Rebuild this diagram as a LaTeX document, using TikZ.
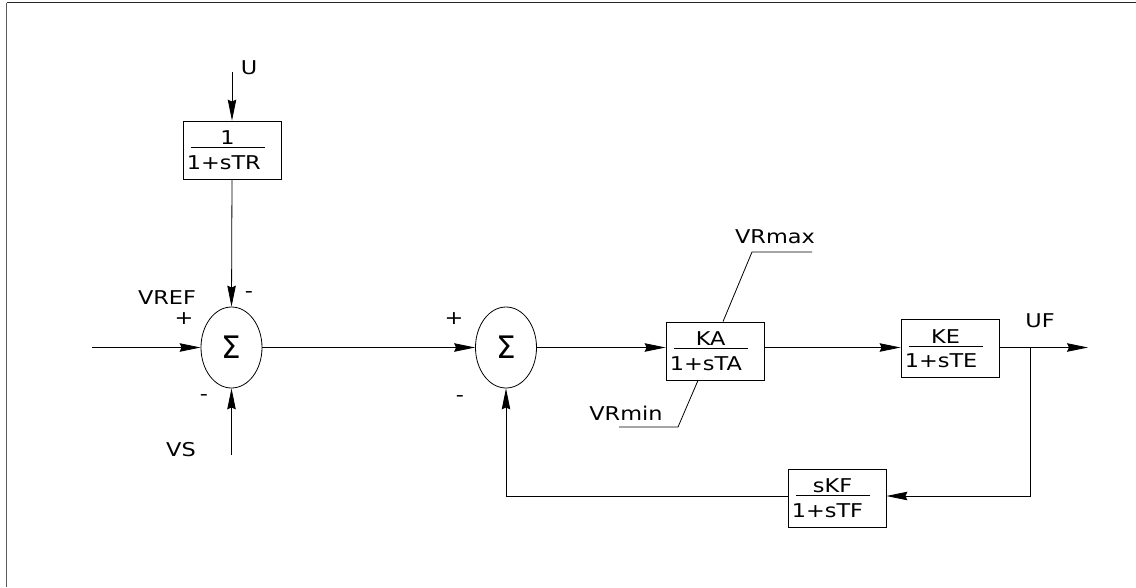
\documentclass[tikz,border=0pt]{standalone}
\usepackage{fontspec}
\setmainfont{DejaVu Sans}
\newfontfamily\widefont[FakeStretch=1.18]{DejaVu Sans}
\usetikzlibrary{arrows.meta,shapes.geometric,calc}
\tikzset{
  blk/.style={draw, line width=0.8pt, rectangle, minimum width=98pt, minimum height=58pt, inner sep=0pt},
  txt/.style={inner sep=0pt, font=\widefont\fontsize{19}{21}\selectfont},
  sumnode/.style={draw, line width=0.8pt, ellipse, minimum width=61pt, minimum height=81pt, inner sep=0pt, font=\fontsize{31}{33}\selectfont},
  wire/.style={line width=0.8pt},
  arr/.style={wire, -{Stealth[length=21pt,width=8.5pt,inset=2pt]}}
}
\newcommand{\blkbox}[5]{%
  \node[blk] (#1) at (#2,#3) {};
  \node[txt] (#1n) at ($(#1.north west)+(45,17)$) {#4};
  \node[txt, anchor=west] (#1d) at ($(#1.north west)+(4,42)$) {#5};
  \draw[wire] ($(#1.north west)+(8,27)$) -- ($(#1.north west)+(82,27)$);}
\begin{document}
\begin{tikzpicture}[x=1pt,y=-1pt]
\useasboundingbox (0,0) rectangle (1136,587);
\draw[line width=1.5pt, black!65] (6.5,587) -- (6.5,2.5);
\draw[line width=1.5pt, black!85] (6.5,2.5) -- (1136,2.5);

\blkbox{tr}{232}{150}{1}{1+sTR}
\blkbox{ka}{715}{351}{KA}{1+sTA}
\blkbox{ke}{950}{348.5}{KE}{1+sTE}
\blkbox{kf}{837}{498}{sKF}{1+sTF}
\node[sumnode] (s1) at (231.5,347.5) {Σ};
\node[sumnode] (s2) at (506,347.5) {Σ};

\coordinate (uin) at (232,72);
\coordinate (vrefin) at (92,347.5);
\coordinate (vsin) at (231.5,455);
\coordinate (br) at (1030,347.5);
\coordinate (out) at (1088,347.5);
\coordinate (fbc) at (1030,496);
\coordinate (fbl) at (506,496);

\node[txt] (ul) at (249,68) {U};
\node[txt] (vref) at (167,298) {VREF};
\node[txt] (p1) at (184,319) {+};
\node[txt] (m1) at (249,295) {-};
\node[txt] (m2) at (204,398) {-};
\node[txt] (vs) at (181,450) {VS};
\node[txt] (p2) at (454,319) {+};
\node[txt] (m3) at (460,399) {-};
\node[txt] (uf) at (1040,321) {UF};
\node[txt] (vrmax) at (775,237) {VRmax};
\node[txt] (vrmin) at (626,413) {VRmin};

\draw[arr] (uin) -- (tr.north);
\draw[arr] (tr.south) -- (s1.north);
\draw[arr] (vrefin) -- (s1.west);
\draw[arr] (vsin) -- (s1.south);
\draw[arr] (s1.east) -- (s2.west);
\draw[arr] (s2.east) -- (s2.east -| ka.west);
\draw[arr] (s2.east -| ka.east) -- (s2.east -| ke.west);
\draw[arr] (s2.east -| ke.east) -- (out);
\draw[arr] (br) -- (fbc) -- (fbc -| kf.east);
\draw[arr] (fbc -| kf.west) -- (fbl) -- (s2.south);

\coordinate (maxa) at (752,252);
\coordinate (maxb) at (812,252);
\coordinate (mina) at (678,427);
\coordinate (minb) at (619,427);
\draw[wire] (ka.north -| 723,0) -- (maxa) -- (maxb);
\draw[wire] (ka.south -| 698,0) -- (mina) -- (minb);
\end{tikzpicture}
\end{document}
